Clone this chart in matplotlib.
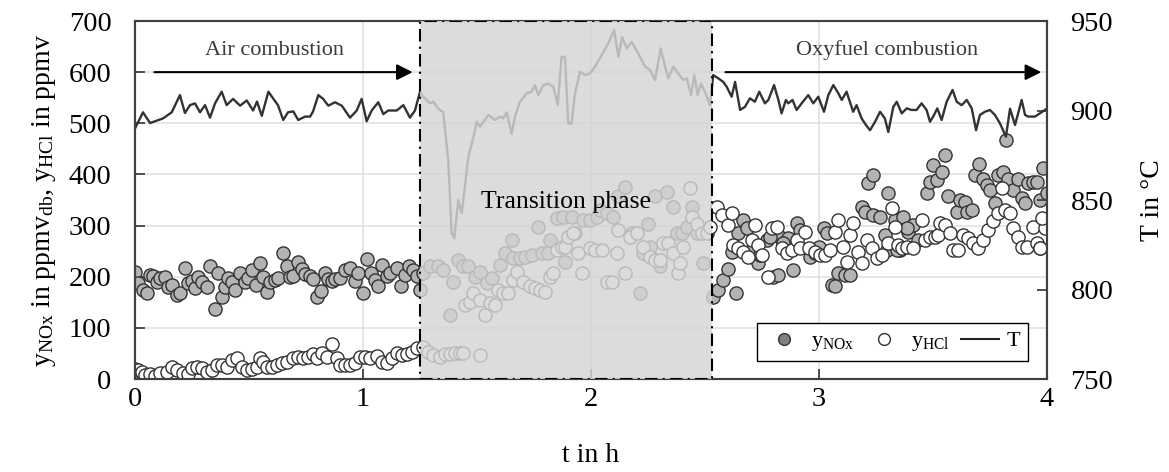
import numpy as np
import matplotlib
matplotlib.use('Agg')
import matplotlib.pyplot as plt
from matplotlib.lines import Line2D

plt.rcParams['font.family'] = ['Liberation Serif', 'DejaVu Serif']
plt.rcParams['mathtext.fontset'] = 'custom'
plt.rcParams['mathtext.rm'] = 'Liberation Serif'
plt.rcParams['mathtext.it'] = 'Liberation Serif:italic'
plt.rcParams['mathtext.bf'] = 'Liberation Serif:bold'

# ---------------- data ----------------
# temperature (right axis), time in h
t_T_air = [0.000, 0.035, 0.066, 0.123, 0.161, 0.197, 0.219, 0.241, 0.263, 0.285,
           0.307, 0.329, 0.351, 0.380, 0.402, 0.430, 0.461, 0.490, 0.518, 0.535,
           0.556, 0.585, 0.607, 0.627, 0.650, 0.671, 0.694, 0.716, 0.746, 0.768,
           0.781, 0.804, 0.825, 0.848, 0.877, 0.907, 0.943, 0.972, 0.994, 1.016,
           1.038, 1.067, 1.089, 1.111, 1.148, 1.177, 1.206, 1.228, 1.250]
T_air = [890, 899, 893, 895.6, 899, 908.6, 898.6, 903, 904, 899,
         903, 896, 904, 910.5, 903, 906.5, 902.7, 905.6, 900, 905,
         897, 910.5, 906.5, 903, 894.7, 899, 899.5, 894.7, 896.6, 896.6,
         899.5, 908.6, 906.5, 902.7, 904.6, 902.7, 896, 899.9, 906.5, 894,
         900, 904.6, 898, 900, 900, 903, 896, 900, 910.5]

t_T_tr = [1.257, 1.294, 1.308, 1.330, 1.352, 1.374, 1.389, 1.400, 1.418, 1.433,
          1.462, 1.484, 1.499, 1.513, 1.550, 1.579, 1.601, 1.615, 1.630, 1.652,
          1.667, 1.689, 1.718, 1.740, 1.754, 1.769, 1.791, 1.813, 1.835, 1.854,
          1.871, 1.886, 1.900, 1.915, 1.930, 1.952, 1.974, 1.996, 2.018, 2.047,
          2.076, 2.101, 2.120, 2.137, 2.157, 2.178, 2.207, 2.237, 2.259, 2.281,
          2.306, 2.325, 2.339, 2.361, 2.383, 2.405, 2.420, 2.439, 2.453, 2.468,
          2.482, 2.500, 2.522]
T_tr = [908.6, 904, 904.9, 901, 899, 872, 831.4, 828.6, 850, 842.6,
        874, 885, 893.7, 891, 897.5, 894.7, 896.6, 895.6, 899, 887,
        896.6, 905, 909.6, 910.5, 914.2, 908.6, 914.2, 915, 913.3, 903,
        930, 930, 892.8, 892.8, 909.6, 921.7, 919.8, 920.7, 924.5, 931,
        937.5, 945, 930, 941, 934.7, 938.4, 932, 924.5, 922.6, 917,
        934.7, 924.5, 918, 924.5, 920.7, 917, 918, 908.6, 919.8, 908.6,
        915, 910.5, 903]

t_T_oxy = [2.536, 2.558, 2.580, 2.595, 2.617, 2.632, 2.654, 2.675, 2.697, 2.719,
           2.738, 2.763, 2.778, 2.803, 2.822, 2.836, 2.855, 2.865, 2.884, 2.902,
           2.924, 2.953, 2.975, 2.997, 3.022, 3.041, 3.063, 3.085, 3.100, 3.121,
           3.150, 3.165, 3.187, 3.206, 3.224, 3.246, 3.268, 3.289, 3.304, 3.326,
           3.341, 3.363, 3.385, 3.406, 3.428, 3.450, 3.472, 3.487, 3.501, 3.519,
           3.538, 3.560, 3.586, 3.604, 3.626, 3.648, 3.670, 3.689, 3.706, 3.728,
           3.750, 3.772, 3.794, 3.820, 3.838, 3.860, 3.889, 3.904, 3.918, 3.947,
           3.969, 3.999]
T_oxy = [919.8, 918, 916, 913.3, 907.7, 916, 900.3, 902, 906.8, 904.9,
         910.5, 904, 905.9, 914.2, 905.9, 898.4, 905.9, 904, 905.9, 900.3,
         904, 908.6, 904, 907.7, 899.3, 908.6, 914.2, 909.6, 905.9, 910.5,
         899.3, 903, 895.6, 891.9, 889, 893.7, 899.3, 895.6, 888, 902,
         904.9, 898.4, 901.2, 900.3, 900.3, 904, 900.3, 893.7, 896.6, 901.2,
         894.7, 904.9, 911.5, 904.9, 903, 905.9, 901.2, 889, 897.5, 899.3,
         900.3, 897.5, 892.8, 885.4, 901, 891.9, 905.9, 897.5, 896.6, 896.6,
         898.4, 901]

# NOx (left axis)
t_nox_air = [0.000, 0.015, 0.037, 0.051, 0.066, 0.080, 0.095, 0.110, 0.132, 0.146,
             0.161, 0.183, 0.197, 0.219, 0.234, 0.249, 0.263, 0.278, 0.292, 0.314,
             0.329, 0.351, 0.365, 0.380, 0.395, 0.409, 0.424, 0.439, 0.461, 0.482,
             0.497, 0.512, 0.531, 0.548, 0.563, 0.578, 0.592, 0.614, 0.629, 0.648,
             0.665, 0.680, 0.694, 0.716, 0.731, 0.746, 0.768, 0.782, 0.797, 0.814,
             0.833, 0.848, 0.863, 0.877, 0.899, 0.921, 0.943, 0.965, 0.980, 0.999,
             1.016, 1.034, 1.053, 1.067, 1.082, 1.104, 1.118, 1.148, 1.165, 1.184,
             1.203, 1.221, 1.235, 1.250]
nox_air = [210, 188, 174, 168, 203, 201, 190, 198, 199, 180,
           184, 164, 169, 218, 188, 192, 177, 199, 190, 180,
           220, 137, 207, 161, 180, 197, 190, 174, 207, 190,
           197, 213, 184, 227, 200, 171, 190, 194, 197, 246,
           220, 200, 201, 229, 216, 205, 201, 195, 161, 173,
           208, 195, 192, 195, 198, 214, 218, 192, 208, 168,
           234, 207, 194, 182, 223, 201, 207, 218, 182, 203,
           220, 213, 201, 174]

t_nox_tr = [1.265, 1.294, 1.330, 1.352, 1.382, 1.396, 1.418, 1.440, 1.462, 1.491,
            1.513, 1.542, 1.564, 1.601, 1.623, 1.652, 1.659, 1.689, 1.711, 1.740,
            1.769, 1.784, 1.813, 1.820, 1.849, 1.879, 1.886, 1.915, 1.930, 1.966,
            1.996, 2.025, 2.039, 2.069, 2.098, 2.120, 2.149, 2.178, 2.215, 2.230,
            2.251, 2.259, 2.281, 2.303, 2.332, 2.361, 2.376, 2.398, 2.420, 2.442,
            2.463, 2.493]
nox_tr = [207, 220, 220, 213, 125, 190, 233, 220, 220, 200,
          210, 187, 197, 223, 246, 272, 236, 236, 239, 243,
          298, 246, 246, 272, 314, 317, 229, 317, 285, 311,
          311, 317, 330, 324, 317, 357, 376, 285, 168, 246,
          304, 259, 357, 220, 366, 337, 285, 285, 298, 337,
          285, 226]

t_nox_oxy = [2.536, 2.558, 2.580, 2.602, 2.636, 2.617, 2.646, 2.668, 2.683, 2.734,
             2.770, 2.800, 2.822, 2.829, 2.866, 2.884, 2.903, 2.917, 2.961, 2.998,
             3.020, 3.034, 3.056, 3.070, 3.085, 3.114, 3.136, 3.187, 3.202, 3.216,
             3.238, 3.238, 3.267, 3.289, 3.304, 3.333, 3.355, 3.369, 3.391, 3.413,
             3.435, 3.472, 3.487, 3.501, 3.519, 3.538, 3.553, 3.567, 3.604, 3.618,
             3.640, 3.648, 3.670, 3.684, 3.703, 3.721, 3.736, 3.750, 3.772, 3.787,
             3.806, 3.820, 3.830, 3.852, 3.874, 3.889, 3.904, 3.918, 3.940, 3.955,
             3.969, 3.984, 3.999, 2.712, 2.741, 2.785, 2.844, 2.982, 3.297, 3.341,
             3.385]
nox_oxy = [161, 174, 194, 216, 168, 249, 285, 311, 295, 226,
           272, 200, 203, 278, 275, 213, 305, 291, 239, 259,
           295, 285, 184, 181, 207, 203, 203, 337, 327, 383,
           399, 321, 317, 282, 363, 311, 252, 317, 288, 301,
           272, 363, 386, 419, 389, 405, 438, 357, 327, 350,
           347, 327, 331, 399, 420, 392, 379, 370, 344, 399,
           405, 467, 392, 370, 392, 353, 344, 383, 386, 386,
           350, 412, 363, 256, 243, 278, 265, 246, 252, 252,
           295]

# HCl (left axis)
t_hcl_air = [0.000, 0.015, 0.029, 0.044, 0.066, 0.088, 0.110, 0.139, 0.161, 0.183,
             0.212, 0.234, 0.249, 0.270, 0.292, 0.314, 0.336, 0.358, 0.380, 0.402,
             0.424, 0.446, 0.468, 0.490, 0.512, 0.534, 0.548, 0.563, 0.577, 0.599,
             0.621, 0.643, 0.665, 0.694, 0.716, 0.738, 0.760, 0.782, 0.797, 0.819,
             0.841, 0.863, 0.885, 0.899, 0.921, 0.943, 0.965, 0.987, 1.009, 1.031,
             1.060, 1.082, 1.104, 1.126, 1.148, 1.170, 1.192, 1.213, 1.235]
hcl_air = [19, 17.6, 13, 7.8, 9.8, 5.9, 11, 14.3, 24, 17.6,
           11, 9.8, 20.9, 22.8, 20.9, 14.3, 17.6, 27.4, 27.4, 24,
           37, 40.4, 24, 17.6, 18.9, 22.8, 40.4, 33.9, 24, 24,
           27.4, 30.6, 33.9, 40.4, 43.7, 40.4, 43.7, 48.9, 40.4, 50.2,
           43.7, 67.8, 40.4, 27.4, 27.4, 27.4, 30.6, 43.7, 43.7, 40.4,
           45, 33.9, 30.6, 40.4, 50.2, 47, 48.9, 53.4, 60]

t_hcl_tr = [1.265, 1.287, 1.309, 1.338, 1.360, 1.382, 1.404, 1.426, 1.440, 1.513,
            1.447, 1.469, 1.484, 1.513, 1.535, 1.557, 1.579, 1.594, 1.616, 1.637,
            1.659, 1.674, 1.703, 1.733, 1.754, 1.776, 1.798, 1.820, 1.835, 1.849,
            1.871, 1.886, 1.901, 1.923, 1.944, 1.959, 1.996, 2.018, 2.047, 2.069,
            2.091, 2.113, 2.120, 2.149, 2.171, 2.200, 2.230, 2.259, 2.281, 2.303,
            2.317, 2.339, 2.361, 2.383, 2.391, 2.405, 2.434, 2.442, 2.463, 2.485,
            2.507, 2.522]
hcl_tr = [63, 53, 47, 44, 49, 49, 50, 50, 51, 46,
          145, 151, 168, 155, 125, 148, 145, 174, 168, 168,
          194, 210, 190, 181, 177, 174, 171, 200, 207, 252,
          259, 259, 278, 285, 246, 207, 256, 252, 252, 190,
          190, 246, 291, 207, 278, 285, 259, 239, 233, 233,
          265, 265, 246, 207, 226, 259, 373, 317, 304, 285,
          285, 298]

t_hcl_oxy = [2.551, 2.573, 2.602, 2.617, 2.624, 2.646, 2.668, 2.690, 2.705, 2.719,
             2.734, 2.749, 2.778, 2.794, 2.816, 2.838, 2.860, 2.882, 2.904, 2.917,
             2.939, 2.955, 2.982, 3.004, 3.026, 3.048, 3.070, 3.085, 3.107, 3.121,
             3.136, 3.151, 3.173, 3.187, 3.209, 3.231, 3.253, 3.275, 3.304, 3.319,
             3.333, 3.348, 3.363, 3.385, 3.414, 3.450, 3.465, 3.487, 3.509, 3.523,
             3.531, 3.553, 3.575, 3.590, 3.611, 3.633, 3.655, 3.677, 3.699, 3.721,
             3.743, 3.765, 3.787, 3.801, 3.816, 3.838, 3.852, 3.874, 3.889, 3.911,
             3.940, 3.955, 3.969, 3.991, 3.980, 3.970]
hcl_oxy = [337, 321, 301, 324, 262, 256, 249, 239, 272, 301,
           262, 243, 200, 295, 298, 256, 246, 252, 272, 256,
           288, 256, 249, 243, 243, 252, 288, 311, 259, 229,
           282, 305, 249, 226, 272, 256, 236, 243, 265, 334,
           298, 262, 256, 259, 256, 311, 272, 278, 278, 282,
           305, 301, 285, 252, 252, 282, 275, 265, 256, 272,
           291, 308, 324, 373, 331, 324, 295, 278, 259, 259,
           298, 265, 256, 295, 314, 256]

x_ticks = [0, 1, 2, 3, 4]
y_left_ticks = [0, 100, 200, 300, 400, 500, 600, 700]
y_right_ticks = [750, 800, 850, 900, 950]
transition = (1.25, 2.53)

# ---------------- plot ----------------
fig = plt.figure(figsize=(11.69, 4.72), dpi=100)
ax = fig.add_axes([0.1155, 0.197, 0.7801, 0.7585])
ax2 = ax.twinx()

spine_c = '#404040'
for a in (ax, ax2):
    for s in a.spines.values():
        s.set_color(spine_c)
        s.set_linewidth(1.5)

ax.set_xlim(0, 4)
ax.set_ylim(0, 700)
ax2.set_ylim(750, 950)
ax.set_xticks(x_ticks)
ax.set_yticks(y_left_ticks)
ax2.set_yticks(y_right_ticks)
ax.grid(True, color='#e2e2e2', lw=1.2)
ax.set_axisbelow(True)

ax.tick_params(axis='both', direction='in', length=7, width=1.3, color=spine_c,
               labelsize=20.5)
ax.tick_params(axis='y', pad=17)
ax.tick_params(axis='x', pad=6)
ax2.tick_params(axis='y', direction='in', length=7, width=1.3, color=spine_c,
                labelsize=20.5, pad=17)

t_nox = t_nox_air + t_nox_tr + t_nox_oxy
y_nox = nox_air + nox_tr + nox_oxy
t_hcl = t_hcl_air + t_hcl_tr + t_hcl_oxy
y_hcl = hcl_air + hcl_tr + hcl_oxy

ax.scatter(t_nox, y_nox, s=90, facecolor='#b3b3b3', edgecolor='#333333',
           linewidths=1.0, zorder=2)
ax.scatter(t_hcl, y_hcl, s=90, facecolor='white', edgecolor='#333333',
           linewidths=1.0, zorder=2)

t_T = t_T_air + t_T_tr + t_T_oxy
T = T_air + T_tr + T_oxy
ax2.plot(t_T, T, color='#333333', lw=1.7, zorder=2, solid_joinstyle='round')

ax2.axvspan(transition[0], transition[1], ymin=0, ymax=1,
            facecolor=(0.835, 0.835, 0.835, 0.83), edgecolor='black',
            linestyle=(0, (6, 2.5, 1, 2.5)), lw=1.5, zorder=3)

ax2.text(1.89, 849, 'Transition phase', ha='center', va='center',
         fontsize=18.5, color='black', zorder=5)

# phase arrows (left-axis coordinates)
ax.annotate('', xy=(1.218, 600), xytext=(0.085, 600),
            arrowprops=dict(arrowstyle='-|>', color='black', lw=1.5,
                            mutation_scale=24, shrinkA=0, shrinkB=0), zorder=4)
ax.text(0.61, 643, 'Air combustion', ha='center', va='center', fontsize=16,
        color='#3a3a3a')
ax.annotate('', xy=(3.975, 600), xytext=(2.59, 600),
            arrowprops=dict(arrowstyle='-|>', color='black', lw=1.5,
                            mutation_scale=24, shrinkA=0, shrinkB=0), zorder=4)
ax.text(3.30, 643, 'Oxyfuel combustion', ha='center', va='center', fontsize=16,
        color='#3a3a3a')

ax.set_ylabel('y$_\\mathrm{NOx}$ in ppmv$_\\mathrm{db}$, y$_\\mathrm{HCl}$ in ppmv',
              fontsize=20, labelpad=8)
ax2.set_ylabel('T in °C', fontsize=20, labelpad=19)
ax.set_xlabel('t in h', fontsize=20, labelpad=22)

handles = [
    Line2D([], [], ls='none', marker='o', markersize=8.5, markerfacecolor='#808080',
           markeredgecolor='#333333', markeredgewidth=1.0),
    Line2D([], [], ls='none', marker='o', markersize=8.5, markerfacecolor='white',
           markeredgecolor='#333333', markeredgewidth=1.0),
    Line2D([], [], color='#222222', lw=1.5),
]
labels = ['y$_\\mathrm{NOx}$', 'y$_\\mathrm{HCl}$', 'T']
leg = ax2.legend(handles, labels, loc='lower right', bbox_to_anchor=(0.979, 0.05),
                 borderaxespad=0, ncol=3, fontsize=16, frameon=True,
                 fancybox=False, edgecolor='black', framealpha=1,
                 handlelength=1.7, handletextpad=0.35, columnspacing=0.5,
                 borderpad=0.35)
leg.get_frame().set_linewidth(1.0)
leg.set_zorder(6)

fig.savefig('out.png', dpi=100)
